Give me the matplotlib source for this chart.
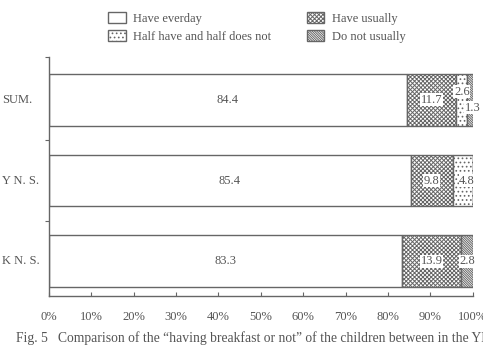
import matplotlib.pyplot as plt
from matplotlib.patches import Patch

plt.rcParams["font.family"] = ["Liberation Serif", "DejaVu Serif"]
plt.rcParams["hatch.linewidth"] = 0.7
plt.rcParams["hatch.color"] = "#444444"

GROUPS = ["SUM.", "Y N. S.", "K N. S."]
CATEGORIES = ["Have everday", "Have usually", "Half have and half does not", "Do not usually"]
HAVE_EVERDAY = [84.4, 85.4, 83.3]
HAVE_USUALLY = [11.7, 9.8, 13.9]
HALF_HALF = [2.6, 4.8, 0.0]
DO_NOT = [1.3, 0.0, 2.8]

TEXT = "#555555"
EDGE = "#666666"
STYLES = {
    "Have everday": dict(facecolor="white", hatch=None),
    "Have usually": dict(facecolor="white", hatch="xxxxxxxx"),
    "Half have and half does not": dict(facecolor="white", hatch="...."),
    "Do not usually": dict(facecolor="white", hatch="\\" * 14),
}


def main() -> None:
    fig = plt.figure(figsize=(4.83, 3.45), dpi=100)
    ax = fig.add_axes([0.101, 0.142, 0.878, 0.693])

    series = [HAVE_EVERDAY, HAVE_USUALLY, HALF_HALF, DO_NOT]
    ypos = list(range(len(GROUPS)))
    left = [0.0] * len(GROUPS)
    for name, vals in zip(CATEGORIES, series):
        st = STYLES[name]
        ax.barh(ypos, vals, left=left, height=0.64, facecolor=st["facecolor"],
                hatch=st["hatch"], edgecolor=EDGE, linewidth=1.0)
        for i, v in enumerate(vals):
            if v <= 0:
                continue
            cx = left[i] + v / 2
            cy = ypos[i]
            bbox = None if name == "Have everday" else dict(facecolor="white", edgecolor="none", pad=0.4)
            if i == 0 and name == "Half have and half does not":
                cy -= 0.1
            if i == 0 and name == "Do not usually":
                cx += 0.6
                cy += 0.1
            if name == "Half have and half does not" and i == 1:
                cx += 1.0
            ax.text(cx, cy, f"{v:.1f}", ha="center", va="center", fontsize=9,
                    color=TEXT, bbox=bbox)
        left = [l + v for l, v in zip(left, vals)]

    ax.set_xlim(0, 100)
    ax.set_ylim(2.43, -0.53)
    ax.set_xticks(range(0, 101, 10))
    ax.set_xticklabels([f"{t}%" for t in range(0, 101, 10)], fontsize=9, color=TEXT)
    ax.tick_params(axis="x", direction="in", length=3, color=EDGE, pad=11)
    ax.set_yticks([-0.53, 0.5, 1.5])
    ax.set_yticklabels([])
    ax.tick_params(axis="y", direction="out", length=3, color=EDGE)
    for s in ["top", "right"]:
        ax.spines[s].set_visible(False)
    for s in ["left", "bottom"]:
        ax.spines[s].set_color(EDGE)
        ax.spines[s].set_linewidth(1.0)

    for i, g in enumerate(GROUPS):
        y_disp = ax.transData.transform((0, ypos[i]))[1]
        fig.text(2 / 483, y_disp / fig.bbox.height, g, ha="left", va="center",
                 fontsize=9, color=TEXT)

    handles = [Patch(facecolor=STYLES[c]["facecolor"], hatch=STYLES[c]["hatch"],
                     edgecolor=EDGE, linewidth=1.0, label=c) for c in CATEGORIES]
    order = [0, 2, 1, 3]
    fig.legend([handles[i] for i in order], [CATEGORIES[i] for i in order],
               loc="upper left", bbox_to_anchor=(0.2006, 0.997), ncol=2, frameon=False,
               fontsize=9, labelcolor=TEXT, handlelength=1.4, handleheight=1.0,
               columnspacing=2.82, handletextpad=0.6, labelspacing=0.37)

    fig.text(16 / 483, 7 / 345,
             "Fig. 5   Comparison of the \u201chaving breakfast or not\u201d of the children "
             "between in the YN. S. and KN. S.",
             ha="left", va="center", fontsize=9.8, color=TEXT)

    fig.savefig("out.png", dpi=100)
    plt.close(fig)


if __name__ == "__main__":
    main()
